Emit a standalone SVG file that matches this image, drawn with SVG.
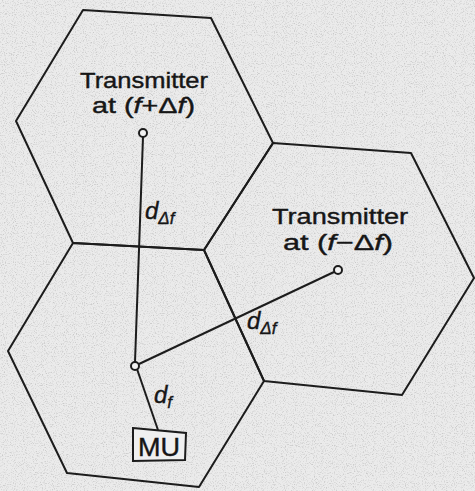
<svg xmlns="http://www.w3.org/2000/svg" width="475" height="491" viewBox="0 0 475 491">
<defs>
<filter id="noise" x="0" y="0" width="100%" height="100%">
<feTurbulence type="fractalNoise" baseFrequency="0.9" numOctaves="2" seed="3" result="t"/>
<feColorMatrix in="t" type="matrix" values="0 0 0 0 0.5  0 0 0 0 0.5  0 0 0 0 0.5  0 0 0 -3 1.5" result="n"/>
<feComposite in="n" in2="SourceGraphic" operator="in"/>
</filter>
</defs>
<style>
.cell{fill:none;stroke:#1c1c1c;stroke-width:2;stroke-linejoin:round}
.ln{fill:none;stroke:#1c1c1c;stroke-width:2}
.pt{fill:#f2f2f2;stroke:#1c1c1c;stroke-width:2}
.lbl{font-family:"Liberation Sans",Arial,sans-serif;fill:#161616;stroke:#161616;stroke-width:0.4;font-size:22px}
.it{font-family:"Liberation Sans",Arial,sans-serif;font-style:italic;fill:#161616;stroke:#161616;stroke-width:0.4}
</style>
<rect width="475" height="491" fill="#ebebeb"/>
<rect width="475" height="491" fill="#ffffff" filter="url(#noise)" opacity="0.7"/>
<g id="cell-top"><polygon class="cell" points="83,10 211,18 273,143 204,250 73,243 16,121"/></g>
<g id="cell-right"><polygon class="cell" points="273,143 411,153 474,278 402,395 264,381 204,250"/></g>
<g id="cell-bottom"><polygon class="cell" points="73,243 204,250 264,381 199,487 67,473 8,351"/></g>
<g id="connectors">
<line class="ln" x1="143" y1="137" x2="135" y2="362"/>
<line class="ln" x1="334" y1="272" x2="139" y2="364"/>
<line class="ln" x1="137" y1="369" x2="158" y2="430"/>
</g>
<g id="tx-top">
<text class="lbl" x="80" y="88" textLength="128" lengthAdjust="spacingAndGlyphs">Transmitter</text>
<text class="lbl" x="92" y="113" textLength="103" lengthAdjust="spacingAndGlyphs">at (<tspan font-style="italic">f</tspan>+Δ<tspan font-style="italic">f</tspan>)</text>
<circle class="pt" cx="143" cy="133" r="4"/>
</g>
<g id="tx-right">
<text class="lbl" x="272" y="224" textLength="136" lengthAdjust="spacingAndGlyphs">Transmitter</text>
<text class="lbl" x="283" y="250" textLength="110" lengthAdjust="spacingAndGlyphs">at (<tspan font-style="italic">f</tspan>−Δ<tspan font-style="italic">f</tspan>)</text>
<circle class="pt" cx="338" cy="270" r="4"/>
</g>
<g id="mu-point"><circle class="pt" cx="135" cy="366" r="4"/></g>
<g id="mu">
<polygon fill="#f0f0f0" stroke="#1c1c1c" stroke-width="2" points="133,428 186,433 185,460 133,461"/>
<text class="lbl" x="159" y="456" text-anchor="middle" style="font-size:25px" textLength="42" lengthAdjust="spacingAndGlyphs">MU</text>
</g>
<g id="labels">
<text class="it" x="145" y="219" font-size="24">d<tspan font-size="17" dy="5">Δf</tspan></text>
<text class="it" x="247" y="329" font-size="24">d<tspan font-size="17" dy="5">Δf</tspan></text>
<text class="it" x="154" y="403" font-size="24">d<tspan font-size="17" dy="5">f</tspan></text>
</g>
</svg>
